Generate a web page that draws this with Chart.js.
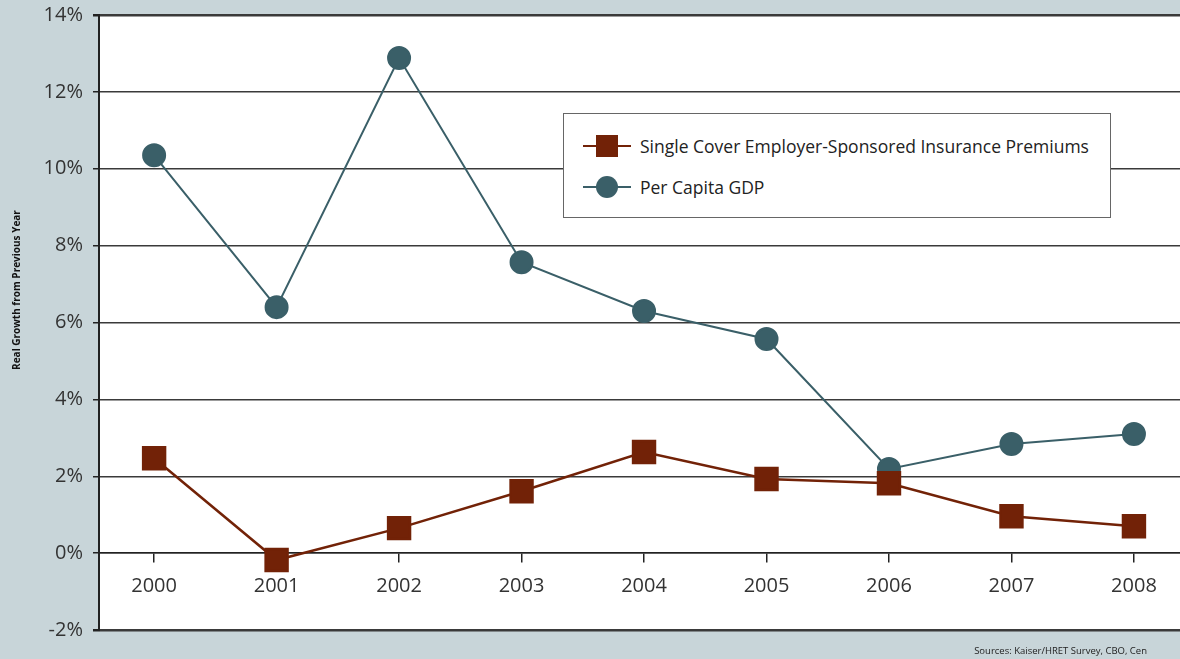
<!DOCTYPE html>
<html>
<head>
<meta charset="utf-8">
<script src="https://cdn.jsdelivr.net/npm/chart.js@4.4.0/dist/chart.umd.min.js"></script>
<style>
  html, body { margin: 0; padding: 0; background: #c8d5d9; }
  #wrap { position: relative; width: 1180px; height: 659px; }
  #legend {
    position: absolute; left: 563px; top: 113px; width: 548px; height: 105px;
    background: #fff; border: 1px solid #666; box-sizing: border-box;
    font-family: "Open Sans", sans-serif; font-size: 17.5px; color: #222;
  }
  .item { position: absolute; left: 19px; height: 24px; display: flex; align-items: center; }
  .sample { position: relative; width: 48px; height: 24px; margin-right: 9px; }
  .sample .ln { position: absolute; left: 0; right: 0; top: 11px; height: 2px; }
  .sample .mk { position: absolute; left: 13px; top: 1px; width: 22px; height: 22px; }
</style>
</head>
<body>
<div id="wrap">
  <canvas id="growth_chart" width="1180" height="659"></canvas>
  <div id="legend"></div>
</div>
<script>
const years = [2000, 2001, 2002, 2003, 2004, 2005, 2006, 2007, 2008];
const premiumGrowth = [2.47, -0.18, 0.65, 1.61, 2.63, 1.93, 1.82, 0.96, 0.70];
const gdpGrowth = [10.35, 6.40, 12.88, 7.57, 6.30, 5.57, 2.19, 2.84, 3.10];
const yTicks = [-2, 0, 2, 4, 6, 8, 10, 12, 14];

const premiumColor = '#722207';
const gdpColor = '#3a5f68';

// background: grey page, white plot area, plus axis title and source note
const bgPlugin = {
  id: 'bg',
  beforeDraw(chart) {
    const ctx = chart.ctx;
    const a = chart.chartArea;
    ctx.save();
    ctx.fillStyle = '#c8d5d9';
    ctx.fillRect(0, 0, chart.width, chart.height);
    ctx.fillStyle = '#ffffff';
    ctx.fillRect(a.left, a.top, a.right - a.left, a.bottom - a.top);
    ctx.restore();
  },
  afterDraw(chart) {
    const ctx = chart.ctx;
    ctx.save();
    ctx.font = '9.5px "Open Sans", sans-serif';
    ctx.fillStyle = '#222';
    ctx.textAlign = 'right';
    ctx.textBaseline = 'middle';
    ctx.fillText('Sources: Kaiser/HRET Survey, CBO, Cen', 1147, 651);
    ctx.translate(17, 290);
    ctx.rotate(-Math.PI / 2);
    ctx.textAlign = 'center';
    ctx.font = 'bold 10px "Open Sans", sans-serif';
    ctx.fillStyle = '#111';
    ctx.fillText('Real Growth from Previous Year', 0, 0);
    ctx.restore();
  }
};

const chart1 = document.getElementById('growth_chart');

const growthChart = new Chart(chart1, {
  type: 'line',
  data: {
    datasets: [{
      label: 'Single Cover Employer-Sponsored Insurance Premiums',
      data: years.map((y, i) => ({x: y, y: premiumGrowth[i]})),
      borderColor: premiumColor,
      backgroundColor: premiumColor,
      borderWidth: 2.5,
      pointStyle: 'rect',
      pointRadius: 15.5,
      pointHoverRadius: 15.5,
      tension: 0
    }, {
      label: 'Per Capita GDP',
      data: years.map((y, i) => ({x: y, y: gdpGrowth[i]})),
      borderColor: gdpColor,
      backgroundColor: gdpColor,
      borderWidth: 2,
      pointStyle: 'circle',
      pointRadius: 11,
      pointHoverRadius: 11,
      tension: 0
    }]
  },
  options: {
    responsive: false,
    animation: false,
    layout: { autoPadding: false, padding: { top: 15, bottom: 29, left: 0, right: 0 } },
    plugins: {
      legend: { display: false },
      tooltip: { enabled: false }
    },
    scales: {
      x: {
        type: 'linear',
        position: { y: 0 },
        min: 1999.55,
        max: 2008.376,
        afterBuildTicks: scale => { scale.ticks = years.map(v => ({value: v})); },
        ticks: {
          callback: v => String(v),
          font: { family: 'Open Sans', size: 20 },
          color: '#333',
          padding: 12
        },
        grid: {
          drawOnChartArea: false,
          drawTicks: true,
          tickLength: 9,
          color: '#222',
          lineWidth: 1.5
        },
        border: { display: true, color: '#222', width: 1.5 }
      },
      y: {
        min: -2,
        max: 14,
        afterBuildTicks: scale => { scale.ticks = yTicks.map(v => ({value: v})); },
        afterFit: scale => { scale.width = 99; scale.paddingTop = 0; scale.paddingBottom = 0; },
        ticks: {
          callback: v => v + '%',
          font: { family: 'Open Sans', size: 20 },
          color: '#333',
          padding: 10
        },
        grid: {
          color: '#3a3a3a',
          lineWidth: ctx => (ctx.tick && (ctx.tick.value === -2 || ctx.tick.value === 14)) ? 2.5 : 1.5,
          tickLength: 6,
          tickColor: '#222'
        },
        border: { display: true, color: '#222', width: 2 }
      }
    }
  },
  plugins: [bgPlugin]
});

// html legend built from the datasets
const legendBox = document.getElementById('legend');
growthChart.data.datasets.forEach((ds, i) => {
  const item = document.createElement('div');
  item.className = 'item';
  item.style.top = (20 + i * 41) + 'px';
  const round = ds.pointStyle === 'circle' ? 'border-radius:50%;' : '';
  item.innerHTML =
    '<div class="sample"><div class="ln" style="background:' + ds.borderColor + '"></div>' +
    '<div class="mk" style="background:' + ds.backgroundColor + ';' + round + '"></div></div>' +
    '<span>' + ds.label + '</span>';
  legendBox.appendChild(item);
});
</script>
</body>
</html>
